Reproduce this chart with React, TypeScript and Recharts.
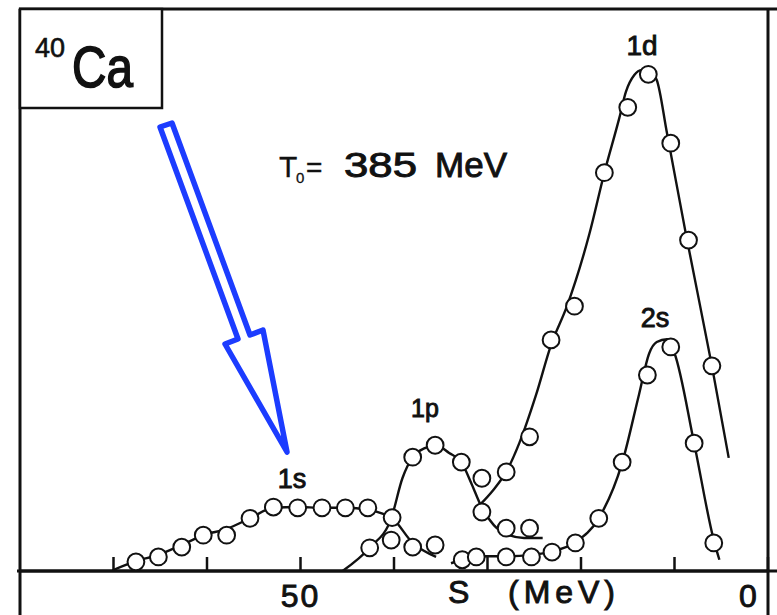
import { ComposedChart, Line, Scatter, XAxis, YAxis, Customized } from 'recharts';

// S = separation energy (MeV), v = strength (arb. units, 1 per y tick)
type Pair = [number, number];

const S1_POINTS: Pair[] = [
  [67.6, 0.13], [65.2, 0.2], [62.7, 0.34], [60.4, 0.51], [57.9, 0.51], [55.4, 0.75],
  [52.9, 0.91], [50.3, 0.9], [47.7, 0.9], [45.2, 0.9], [42.8, 0.9], [40.2, 0.76],
  [38.0, 0.34], [35.6, 0.37],
];
const P1_POINTS: Pair[] = [
  [42.6, 0.33], [40.3, 0.44], [38.0, 1.62], [35.6, 1.79], [32.8, 1.55],
  [30.6, 1.32], [30.6, 0.84], [28.0, 0.61], [25.5, 0.61],
];
const D1_POINTS: Pair[] = [
  [28.0, 1.41], [25.5, 1.91], [23.2, 3.29], [20.7, 3.77], [17.5, 5.67],
  [15.0, 6.6], [12.8, 7.07], [10.4, 6.09], [8.5, 4.71], [6.0, 2.92],
];
const S2_POINTS: Pair[] = [
  [32.7, 0.16], [31.2, 0.2], [28.0, 0.2], [25.3, 0.2], [23.1, 0.27], [20.6, 0.4],
  [18.1, 0.75], [15.6, 1.55], [12.9, 2.79], [10.4, 3.19], [7.9, 1.82], [5.8, 0.4],
];

// drawn curves
const S1_FIT: Pair[] = [
  [70.1, 0.01], [67.6, 0.14], [65.2, 0.23], [62.7, 0.37], [60.4, 0.51], [57.9, 0.6],
  [55.4, 0.75], [52.9, 0.9], [50.3, 0.91], [47.7, 0.9], [45.2, 0.9], [42.8, 0.87],
  [40.2, 0.75], [38.0, 0.4], [35.5, 0.2],
];
const P1_FIT: Pair[] = [
  [45.5, 0], [42.6, 0.33], [40.3, 0.75], [39.1, 1.32], [38.0, 1.62], [36.7, 1.75],
  [35.5, 1.79], [34.1, 1.68], [32.8, 1.55], [31.7, 1.24], [30.7, 0.93], [29.3, 0.65],
  [27.7, 0.51], [26.1, 0.47], [24.1, 0.47],
];
const D1_FIT: Pair[] = [
  [30.9, 0.93], [29.4, 1.15], [28.0, 1.41], [26.6, 1.82], [24.8, 2.51], [23.2, 3.22],
  [21.5, 3.77], [19.1, 4.8], [17.5, 5.67], [15.9, 6.45], [15.2, 6.82], [14.3, 7.06],
  [13.5, 7.13], [12.7, 7.12], [11.9, 6.99], [10.8, 6.23], [8.8, 4.81], [6.0, 2.92],
  [4.2, 1.61],
];
const S2_FIT: Pair[] = [
  [33.9, 0.11], [32.7, 0.16], [31.2, 0.21], [28.0, 0.21], [25.3, 0.23], [23.1, 0.28],
  [20.6, 0.41], [18.1, 0.75], [15.6, 1.54], [13.8, 2.51], [12.7, 3.1], [11.9, 3.26],
  [10.8, 3.3], [10.0, 3.1], [7.9, 1.82], [5.8, 0.44], [5.2, 0.16],
];

const X_TICKS = [0, 10, 20, 30, 40, 50, 60, 70];
const X_LABELS: Record<number, string> = { 50: '50', 0: '0' };
const Y_TICKS = [1, 2, 3, 4, 5, 6, 7];

const rows = (pairs: Pair[]) => pairs.map(([e, v]) => ({ e, v }));

const W = 777;
const H = 615;
const PLOT = { left: 20, top: 9, right: 768, bottom: 571 };
const INK = '#111';
const FONT = '"Liberation Sans", Arial, sans-serif';
// scanned lettering is a bit heavier than the regular face
const heavy = { fontFamily: FONT, fill: INK, stroke: INK, strokeWidth: 0.9 };

const BottomTick = (props: any) => {
  const { x, y, payload } = props;
  const label = X_LABELS[payload.value];
  if (!label) return null;
  return (
    <text
      x={x + (payload.value === 0 ? -19 : 0)}
      y={y}
      textAnchor='middle'
      fontSize={32}
      letterSpacing={2}
      {...heavy}
    >
      {label}
    </text>
  );
};

const OpenCircle = (props: any) => (
  <circle cx={props.cx} cy={props.cy} r={8.4} fill='#fff' stroke={INK} strokeWidth={2} />
);

const Overlay = () => (
  <g>
    {/* frame */}
    <line x1={PLOT.left} y1={PLOT.top} x2={PLOT.left} y2={H} stroke={INK} strokeWidth={3} />
    <line x1={PLOT.right} y1={PLOT.top} x2={PLOT.right} y2={H} stroke={INK} strokeWidth={3} />
    <line x1={PLOT.left - 1} y1={PLOT.top} x2={W} y2={PLOT.top} stroke={INK} strokeWidth={3} />
    <line x1={PLOT.left - 3} y1={PLOT.bottom} x2={W} y2={PLOT.bottom} stroke={INK} strokeWidth={3} />

    {/* nucleus box */}
    <rect x={PLOT.left} y={PLOT.top} width={142} height={99} fill='#fff' stroke={INK} strokeWidth={2.5} />
    <text x={35} y={57} fontSize={27} {...heavy} strokeWidth={0.6}>40</text>
    <text x={72} y={87} fontSize={58} textLength={61} lengthAdjust='spacingAndGlyphs' {...heavy} strokeWidth={1.6}>
      Ca
    </text>

    {/* beam energy */}
    <text x={279} y={177} fontSize={30} {...heavy} strokeWidth={0.3}>T</text>
    <text x={296} y={183} fontSize={15} {...heavy} strokeWidth={0.3}>0</text>
    <text x={306} y={177} fontSize={28} {...heavy} strokeWidth={0.5}>=</text>
    <text x={344} y={177} fontSize={35} textLength={73} lengthAdjust='spacingAndGlyphs' {...heavy}>
      385
    </text>
    <text x={435} y={177} fontSize={35} textLength={72} lengthAdjust='spacingAndGlyphs' {...heavy}>
      MeV
    </text>

    {/* shell labels */}
    <text x={292} y={488} textAnchor='middle' fontSize={27} {...heavy}>1s</text>
    <text x={425} y={417} textAnchor='middle' fontSize={25} {...heavy}>1p</text>
    <text x={642} y={55} textAnchor='middle' fontSize={28} {...heavy}>1d</text>
    <text x={655} y={327} textAnchor='middle' fontSize={27} {...heavy}>2s</text>

    {/* axis title */}
    <text x={448} y={603} fontSize={32} {...heavy}>S</text>
    <text x={508} y={603} fontSize={32} textLength={107} lengthAdjust='spacing' {...heavy}>
      (MeV)
    </text>

    {/* hollow blue arrow pointing at 1s */}
    <polygon
      points='160,127 238,339 225,344 287,452 263,330 250,335 172,123'
      fill='#fff'
      stroke='#1c3cff'
      strokeWidth={5.5}
      strokeLinejoin='round'
    />
  </g>
);

export default function App() {
  return (
    <div style={{ width: W, height: H }}>
      <style>{'body{margin:0;overflow:hidden;background:#fff}'}</style>
      <ComposedChart
        width={W}
        height={H}
        margin={{ top: PLOT.top, right: W - PLOT.right - 1, bottom: 0, left: PLOT.left - 1 }}
      >
        <XAxis
          dataKey='e'
          type='number'
          domain={[0, 80]}
          reversed
          allowDataOverflow
          ticks={X_TICKS}
          height={H - PLOT.bottom}
          tickSize={-14}
          tickMargin={50}
          tick={<BottomTick />}
          tickLine={{ stroke: INK, strokeWidth: 2.5 }}
          axisLine={{ stroke: INK, strokeWidth: 3 }}
        />
        <YAxis
          dataKey='v'
          type='number'
          domain={[0, 8]}
          allowDataOverflow
          ticks={Y_TICKS}
          width={1}
          tick={false}
          tickSize={-22}
          tickLine={{ stroke: INK, strokeWidth: 2.5 }}
          axisLine={false}
        />
        <YAxis
          yAxisId='r'
          orientation='right'
          type='number'
          domain={[0, 8]}
          allowDataOverflow
          ticks={Y_TICKS}
          width={1}
          tick={false}
          tickSize={5}
          tickLine={{ stroke: INK, strokeWidth: 2.5 }}
          axisLine={false}
        />

        <Line data={rows(S1_FIT)} dataKey='v' type='monotone' stroke={INK} strokeWidth={2.4} dot={false} isAnimationActive={false} />
        <Line data={rows(P1_FIT)} dataKey='v' type='monotone' stroke={INK} strokeWidth={2.4} dot={false} isAnimationActive={false} />
        <Line data={rows(D1_FIT)} dataKey='v' type='monotone' stroke={INK} strokeWidth={2.4} dot={false} isAnimationActive={false} />
        <Line data={rows(S2_FIT)} dataKey='v' type='monotone' stroke={INK} strokeWidth={2.4} dot={false} isAnimationActive={false} />

        <Scatter data={rows(S1_POINTS)} dataKey='v' shape={OpenCircle} isAnimationActive={false} />
        <Scatter data={rows(P1_POINTS)} dataKey='v' shape={OpenCircle} isAnimationActive={false} />
        <Scatter data={rows(D1_POINTS)} dataKey='v' shape={OpenCircle} isAnimationActive={false} />
        <Scatter data={rows(S2_POINTS)} dataKey='v' shape={OpenCircle} isAnimationActive={false} />

        <Customized component={Overlay} />
      </ComposedChart>
    </div>
  );
}
